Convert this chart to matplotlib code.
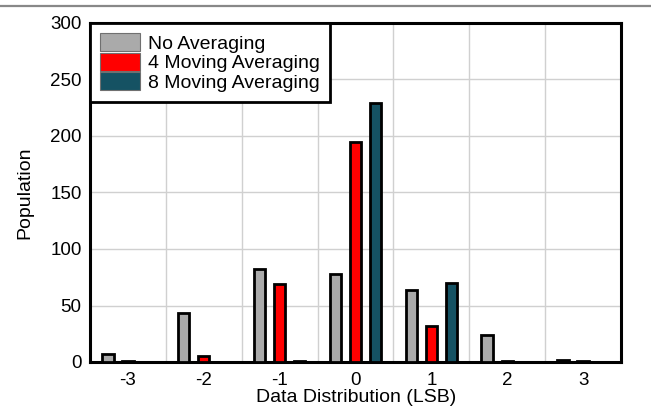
import numpy as np
import matplotlib
matplotlib.use("Agg")
import matplotlib.pyplot as plt
from matplotlib.patches import Patch
from matplotlib.lines import Line2D

plt.rcParams['font.family'] = ['Liberation Sans', 'DejaVu Sans']
plt.rcParams['axes.unicode_minus'] = False

# Data
bins = [-3, -2, -1, 0, 1, 2, 3]
no_avg = [7, 43, 82, 78, 64, 24, 2]
avg4 = [1, 5, 69, 195, 32, 1, 1]
avg8 = [0, 0, 1, 229, 70, 0, 0]
labels = ["No Averaging", "4 Moving Averaging", "8 Moving Averaging"]
colors = ["#aaaaaa", "#ff0000", "#155263"]

fig = plt.figure(figsize=(6.51, 4.08), dpi=100)
ax = fig.add_axes([90/651, 1 - 362/408, (621 - 90)/651, (362 - 23)/408])

x = np.array(bins, dtype=float)
off = 0.265
w = 0.15
for i, (vals, c) in enumerate(zip([no_avg, avg4, avg8], colors)):
    ax.bar(x + (i - 1)*off, vals, width=w, color=c, edgecolor="black",
           linewidth=2, zorder=3)

ax.set_xlim(-3.5, 3.5)
ax.set_ylim(0, 300)
ax.set_xticks(bins)
ax.set_xticks(np.arange(-2.5, 3.0, 1.0), minor=True)
ax.set_yticks(range(0, 301, 50))
ax.grid(True, which="minor", axis="x", color="#d0d0d0", linewidth=1, zorder=0)
ax.grid(True, which="major", axis="y", color="#d0d0d0", linewidth=1, zorder=0)
ax.tick_params(axis="both", which="both", length=0, labelsize=13.5)
ax.tick_params(axis="x", pad=7)
ax.tick_params(axis="y", pad=6)
for s in ax.spines.values():
    s.set_linewidth(2.2)
    s.set_color("black")

ax.set_xlabel("Data Distribution (LSB)", fontsize=14)
ax.set_ylabel("Population", fontsize=14)
ax.xaxis.set_label_coords((356 - 90)/531, (362 - 389)/339)
ax.yaxis.set_label_coords((25 - 90)/531, 0.5)
ax.yaxis.label.set_va("center")

handles = [Patch(facecolor=c, edgecolor="#707070", linewidth=0.8) for c in colors]
leg = ax.legend(handles, labels, loc="upper left", fontsize=14,
                frameon=True, fancybox=False, borderaxespad=0,
                handlelength=2.06, handleheight=1.04, labelspacing=0,
                handletextpad=0.42, borderpad=0.52)
leg.get_frame().set_edgecolor("black")
leg.get_frame().set_linewidth(2)
leg.get_frame().set_alpha(1)
leg.set_zorder(5)

# grey rule across the top of the page
fig.add_artist(Line2D([0, 1], [1 - 5.5/408, 1 - 5.5/408], color="#888888",
                      linewidth=1.6, transform=fig.transFigure))

fig.savefig("out.png", dpi=100)
